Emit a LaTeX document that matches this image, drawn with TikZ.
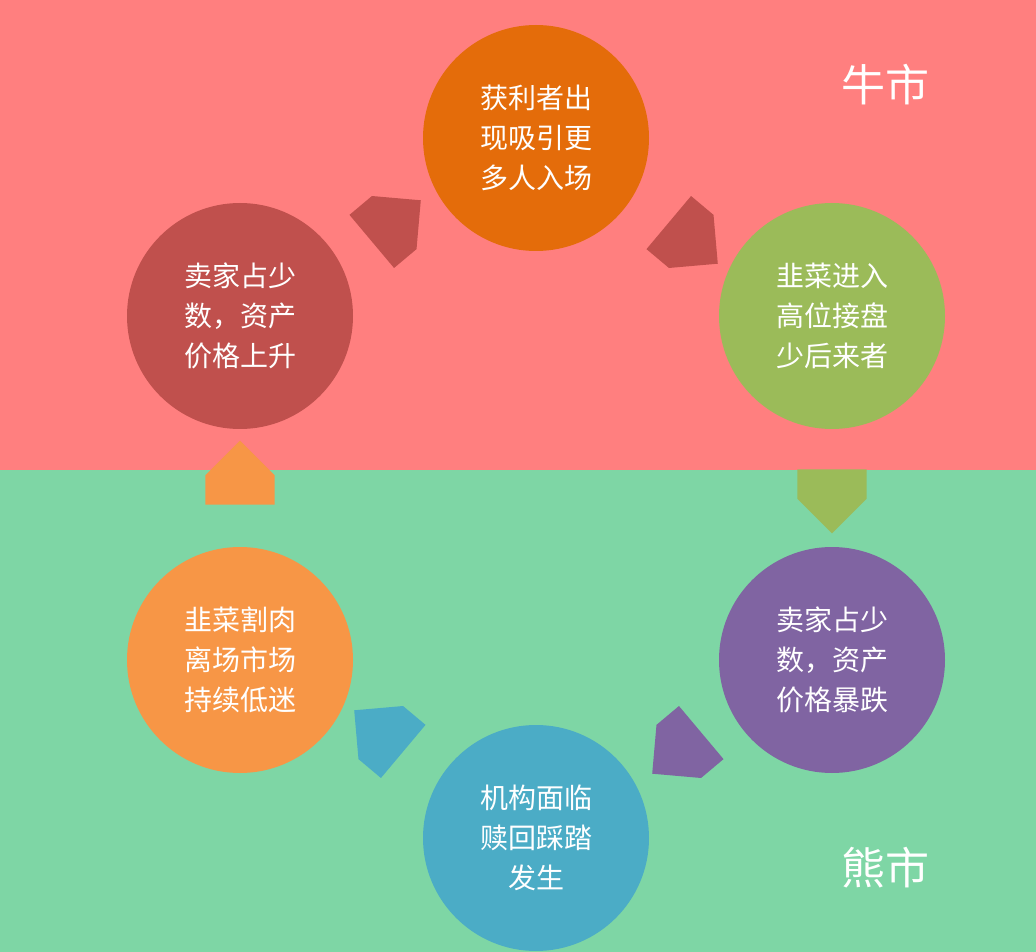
\documentclass[tikz,border=0pt]{standalone}
\usepackage{fontspec}
\newfontfamily\cjk{Noto Sans CJK SC}
\usetikzlibrary{shapes.arrows}
\definecolor{bullbg}{RGB}{255,127,127}
\definecolor{bearbg}{RGB}{126,214,165}
\definecolor{cRed}{RGB}{192,80,77}
\definecolor{cOrange}{RGB}{228,108,10}
\definecolor{cGreen}{RGB}{155,187,89}
\definecolor{cPurple}{RGB}{128,100,162}
\definecolor{cBlue}{RGB}{75,172,198}
\definecolor{cLight}{RGB}{247,150,70}
\tikzset{
  stage/.style={circle,minimum size=169.5pt,inner sep=0pt,text=white,align=center,
    font=\cjk\fontsize{21}{30}\selectfont},
  turn/.style={single arrow,minimum height=48pt,minimum width=52pt,
    single arrow head extend=0pt,inner sep=0pt,single arrow tip angle=90},
  market/.style={text=white,font=\cjk\fontsize{33}{36}\selectfont}
}
\begin{document}
\begin{tikzpicture}[x=0.75pt,y=0.75pt,yscale=-1,xscale=1]
        \useasboundingbox (0,0) rectangle (1036,952);
        % backgrounds
        \fill [bullbg] (0,0) rectangle (1036,470);
        \fill [bearbg] (0,470) rectangle (1036,952);
        % stages
        \node [stage,fill=cOrange] (rise) at (536,138) {获利者出\\现吸引更\\多人入场};
        \node [stage,fill=cRed] (start) at (240,316) {卖家占少\\数，资产\\价格上升};
        \node [stage,fill=cGreen] (peak) at (832,316) {韭菜进入\\高位接盘\\少后来者};
        \node [stage,fill=cPurple] (crash) at (832,660) {卖家占少\\数，资产\\价格暴跌};
        \node [stage,fill=cBlue] (run) at (536,838) {机构面临\\赎回踩踏\\发生};
        \node [stage,fill=cLight] (low) at (240,660) {韭菜割肉\\离场市场\\持续低迷};
        % turning arrows
        \node [turn,fill=cRed,rotate=40] (a1) at (383,232) {};
        \node [turn,fill=cRed,rotate=-40] (a2) at (680,232) {};
        \node [turn,fill=cGreen,rotate=-90] (a3) at (832,484) {};
        \node [turn,fill=cPurple,rotate=-140] (a4) at (690,742) {};
        \node [turn,fill=cBlue,rotate=140] (a5) at (392,742) {};
        \node [turn,fill=cLight,rotate=90] (a6) at (240,490) {};
        % labels
        \node [market] (bull) at (885,85) {牛市};
        \node [market] (bear) at (885,868) {熊市};
\end{tikzpicture}
\end{document}
